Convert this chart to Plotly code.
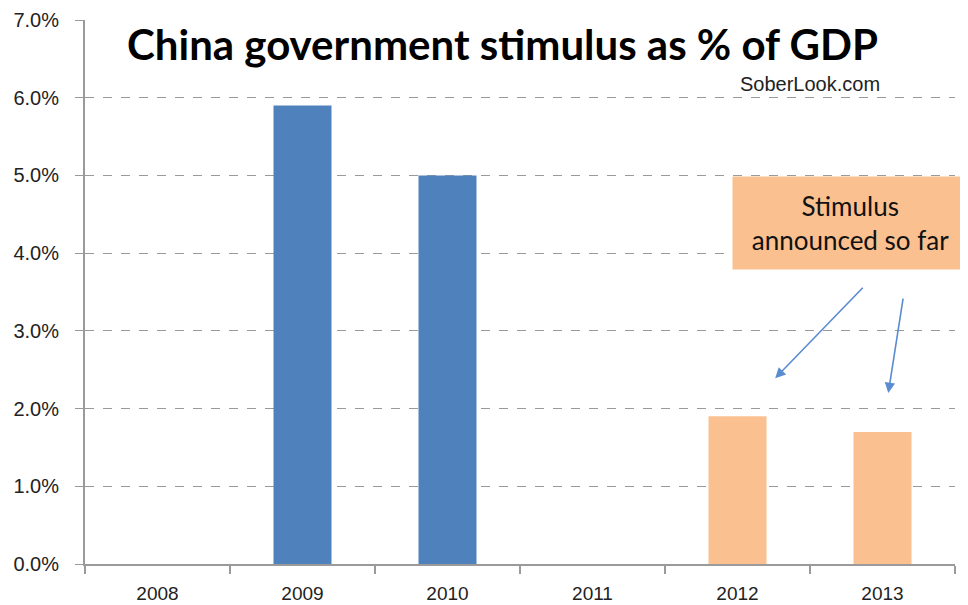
import plotly.graph_objects as go

years = ["2008", "2009", "2010", "2011", "2012", "2013"]
stimulus = [None, 0.059, 0.050, None, 0.019, 0.017]
bar_colors = ["#4F81BD", "#4F81BD", "#4F81BD", "#4F81BD", "#FAC090", "#FAC090"]
y_ticks = [0.0, 0.01, 0.02, 0.03, 0.04, 0.05, 0.06, 0.07]

fig = go.Figure()
fig.add_trace(go.Bar(
    x=years, y=stimulus, width=0.4,
    marker=dict(color=bar_colors, line=dict(width=0)),
))

axis_gray = "#9a9a9a"
# page body has an 8px margin, so the figure is offset by 8px
fig.update_layout(
    width=960, height=597,
    margin=dict(l=77, r=13, t=12, b=41),
    plot_bgcolor="white", paper_bgcolor="white",
    showlegend=False,
    bargap=0.6,
    font=dict(family="Liberation Sans, Arial", color="#222"),
)
fig.update_xaxes(
    type="category", range=[-0.5, 5.5], automargin=False,
    showline=True, linecolor=axis_gray, linewidth=2,
    ticks="outside", tickson="boundaries", ticklen=8, tickcolor=axis_gray, tickwidth=2,
    tickfont=dict(size=19, family="Liberation Sans, Arial", color="#222"),
    ticklabelstandoff=11,
    showgrid=False,
)
fig.update_yaxes(
    range=[0, 0.07], tickvals=y_ticks, tickformat=".1%", automargin=False,
    showline=True, linecolor=axis_gray, linewidth=2,
    ticks="outside", ticklen=8, tickcolor=axis_gray, tickwidth=1,
    tickfont=dict(size=20, family="Liberation Sans, Arial", color="#222"),
    ticklabelstandoff=12,
    showgrid=True, gridcolor=axis_gray, gridwidth=1, griddash="dash",
    zeroline=False,
)

fig.add_annotation(
    text="<b>China government stimulus as % of GDP</b>",
    xref="paper", yref="paper", x=(502 - 85) / 870, y=(564 - 44) / 544,
    xanchor="center", yanchor="middle", showarrow=False,
    font=dict(family="Lato", size=42, color="black"),
)
fig.add_annotation(
    text="SoberLook.com",
    xref="paper", yref="paper", x=(810 - 85) / 870, y=(564 - 84) / 544,
    xanchor="center", yanchor="middle", showarrow=False,
    font=dict(family="Liberation Sans, Arial", size=20, color="#222"),
)
fig.add_annotation(
    text="Stimulus<br>announced so far",
    xref="paper", yref="paper", x=(850.5 - 85) / 870, y=(564 - 223) / 544,
    xanchor="center", yanchor="middle", showarrow=False,
    width=231, height=88, bgcolor="#FAC090", borderpad=2,
    align="center",
    font=dict(family="Lato", size=26, color="#111"),
)
arrow_color = "#5B8BD0"
fig.add_annotation(
    x=4.26, y=0.0239, xref="x", yref="y", ax=89, ay=-92, axref="pixel", ayref="pixel",
    text="", showarrow=True, arrowhead=2, arrowsize=1.3, arrowwidth=1.6, arrowcolor=arrow_color,
)
fig.add_annotation(
    x=5.04, y=0.022, xref="x", yref="y", ax=15, ay=-96, axref="pixel", ayref="pixel",
    text="", showarrow=True, arrowhead=2, arrowsize=1.3, arrowwidth=1.6, arrowcolor=arrow_color,
)

fig.write_html("out.html")
